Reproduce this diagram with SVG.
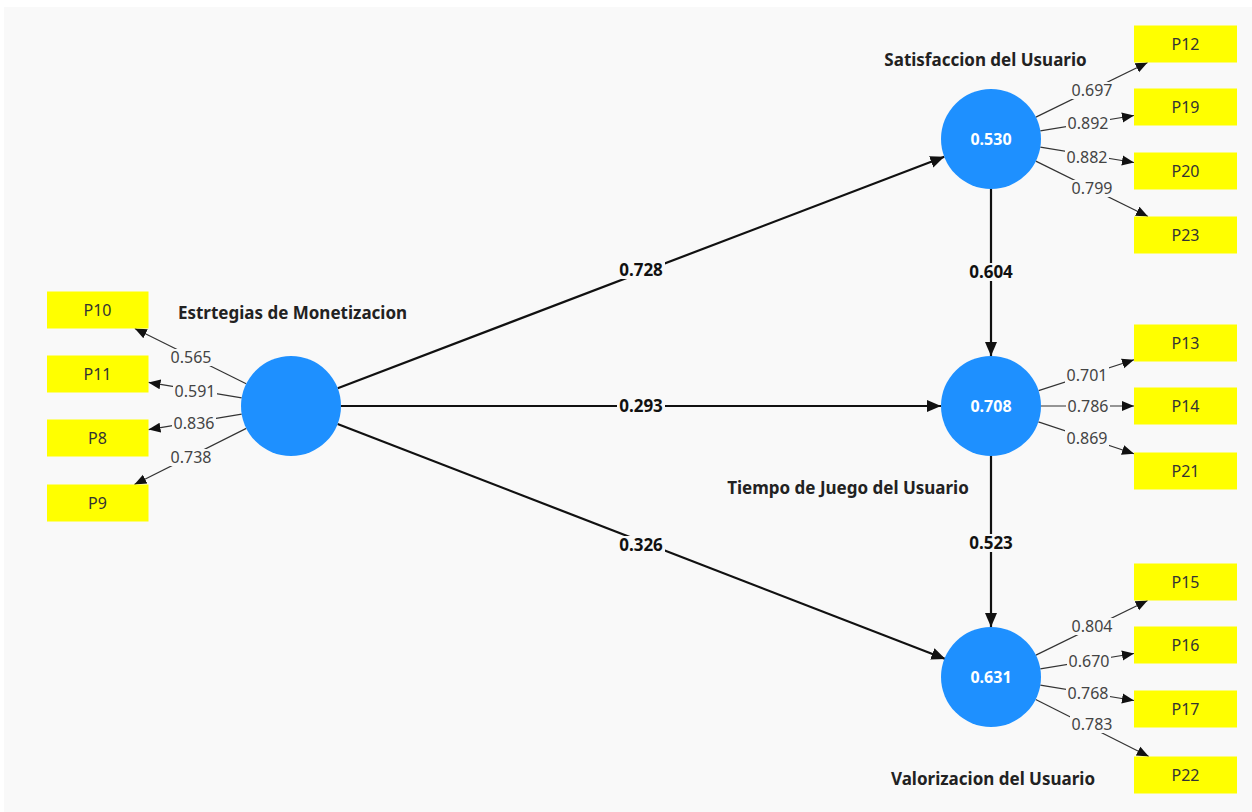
<svg xmlns="http://www.w3.org/2000/svg" width="1252" height="812" viewBox="0 0 1252 812">
<defs>
<marker id="ah" markerUnits="userSpaceOnUse" markerWidth="16" markerHeight="14" refX="14" refY="7" orient="auto"><path d="M0,1 L14,7 L0,13 Z" fill="#111"/></marker>
<marker id="ahs" markerUnits="userSpaceOnUse" markerWidth="14" markerHeight="12" refX="12" refY="6" orient="auto"><path d="M0,1 L12,6 L0,11 Z" fill="#111"/></marker>
</defs>
<style>
.bg{fill:#f9f9f9}
.lv circle{fill:#1e90ff}
.lv .v{font-family:"Noto Sans","Open Sans",sans-serif;font-size:16px;font-weight:bold;fill:#fff;text-anchor:middle}
.name{font-family:"Noto Sans","Open Sans",sans-serif;font-size:17px;font-weight:bold;fill:#222;text-anchor:middle}
.mv rect{fill:#ffff00}
.mv text{font-family:"Noto Sans","Open Sans",sans-serif;font-size:16px;fill:#333;text-anchor:middle}
.sp{stroke:#111;stroke-width:2.2;fill:none;marker-end:url(#ah)}
.ld{stroke:#333;stroke-width:1.2;fill:none;marker-end:url(#ahs)}
.kb{fill:#f9f9f9}
.sl{font-family:"Noto Sans","Open Sans",sans-serif;font-size:17px;font-weight:bold;fill:#111;text-anchor:middle}
.ll{font-family:"Noto Sans","Open Sans",sans-serif;font-size:16px;fill:#444;text-anchor:middle}
</style>
<rect width="1252" height="812" fill="#fff"/>
<rect class="bg" x="4" y="7" width="1248" height="805"/>

<g id="connectors">
<line class="sp" x1="337.7" y1="388.2" x2="944.3" y2="156.8"/>
<line class="sp" x1="341" y1="406" x2="941" y2="406"/>
<line class="sp" x1="337.6" y1="424" x2="945.4" y2="659"/>
<line class="sp" x1="991" y1="189" x2="991" y2="356"/>
<line class="sp" x1="991" y1="456" x2="991" y2="627"/>
<rect class="kb" x="617" y="261" width="48" height="18"/>
<rect class="kb" x="617" y="397" width="48" height="18"/>
<rect class="kb" x="617" y="536" width="48" height="18"/>
<rect class="kb" x="967" y="263" width="48" height="18"/>
<rect class="kb" x="967" y="534" width="48" height="18"/>
<text class="sl" x="641" y="276">0.728</text>
<text class="sl" x="641" y="412">0.293</text>
<text class="sl" x="641" y="551">0.326</text>
<text class="sl" x="991" y="278">0.604</text>
<text class="sl" x="991" y="549">0.523</text>

<line class="ld" x1="246.2" y1="383.8" x2="134.8" y2="328.5"/>
<line class="ld" x1="241.7" y1="397.8" x2="148.5" y2="382.4"/>
<line class="ld" x1="241.7" y1="414.2" x2="148.5" y2="429.6"/>
<line class="ld" x1="246.3" y1="428.4" x2="134.4" y2="484.5"/>
<rect class="kb" x="169" y="349" width="44" height="17"/>
<rect class="kb" x="173" y="383" width="44" height="17"/>
<rect class="kb" x="172" y="415" width="44" height="17"/>
<rect class="kb" x="169" y="449" width="44" height="17"/>
<text class="ll" x="191" y="363">0.565</text>
<text class="ll" x="195" y="397">0.591</text>
<text class="ll" x="194" y="429">0.836</text>
<text class="ll" x="191" y="463">0.738</text>

<line class="ld" x1="1035.9" y1="117.1" x2="1147.6" y2="62.5"/>
<line class="ld" x1="1040.3" y1="130.9" x2="1134" y2="115.5"/>
<line class="ld" x1="1040.3" y1="147.1" x2="1134" y2="162.5"/>
<line class="ld" x1="1035.8" y1="161.1" x2="1148" y2="216.5"/>
<rect class="kb" x="1070" y="82" width="44" height="17"/>
<rect class="kb" x="1066" y="115" width="44" height="17"/>
<rect class="kb" x="1065" y="149" width="44" height="17"/>
<rect class="kb" x="1070" y="180" width="44" height="17"/>
<text class="ll" x="1092" y="96">0.697</text>
<text class="ll" x="1088" y="129">0.892</text>
<text class="ll" x="1087" y="163">0.882</text>
<text class="ll" x="1092" y="194">0.799</text>

<line class="ld" x1="1038.6" y1="390.6" x2="1134" y2="359.7"/>
<line class="ld" x1="1041" y1="406" x2="1134" y2="406"/>
<line class="ld" x1="1038.4" y1="421.9" x2="1134" y2="453.8"/>
<rect class="kb" x="1065" y="367" width="44" height="17"/>
<rect class="kb" x="1066" y="398" width="44" height="17"/>
<rect class="kb" x="1065" y="430" width="44" height="17"/>
<text class="ll" x="1087" y="381">0.701</text>
<text class="ll" x="1088" y="412">0.786</text>
<text class="ll" x="1087" y="444">0.869</text>

<line class="ld" x1="1035.9" y1="655.1" x2="1147.6" y2="600.5"/>
<line class="ld" x1="1040.3" y1="668.9" x2="1134" y2="653.5"/>
<line class="ld" x1="1040.3" y1="685.1" x2="1134" y2="700.5"/>
<line class="ld" x1="1035.7" y1="699.5" x2="1148.8" y2="756.5"/>
<rect class="kb" x="1070" y="618" width="44" height="17"/>
<rect class="kb" x="1067" y="653" width="44" height="17"/>
<rect class="kb" x="1066" y="685" width="44" height="17"/>
<rect class="kb" x="1070" y="716" width="44" height="17"/>
<text class="ll" x="1092" y="632">0.804</text>
<text class="ll" x="1089" y="667">0.670</text>
<text class="ll" x="1088" y="699">0.768</text>
<text class="ll" x="1092" y="730">0.783</text>
</g>

<g id="estrategias" class="lv">
<circle cx="291" cy="406" r="50"/>
<text class="name" x="292.5" y="319">Estrtegias de Monetizacion</text>
</g>
<g id="satisfaccion" class="lv">
<circle cx="991" cy="139" r="50"/>
<text class="v" x="991" y="145">0.530</text>
<text class="name" x="985.5" y="66">Satisfaccion del Usuario</text>
</g>
<g id="tiempo" class="lv">
<circle cx="991" cy="406" r="50"/>
<text class="v" x="991" y="412">0.708</text>
<text class="name" x="848" y="494">Tiempo de Juego del Usuario</text>
</g>
<g id="valorizacion" class="lv">
<circle cx="991" cy="677" r="50"/>
<text class="v" x="991" y="683">0.631</text>
<text class="name" x="993" y="785">Valorizacion del Usuario</text>
</g>

<g id="P10" class="mv"><rect x="47" y="291.5" width="101.5" height="37"/><text x="97.5" y="316">P10</text></g>
<g id="P11" class="mv"><rect x="47" y="355.5" width="101.5" height="37"/><text x="97.5" y="380">P11</text></g>
<g id="P8" class="mv"><rect x="47" y="419.5" width="101.5" height="37"/><text x="97.5" y="444">P8</text></g>
<g id="P9" class="mv"><rect x="47" y="484.5" width="101.5" height="37"/><text x="97.5" y="509">P9</text></g>

<g id="P12" class="mv"><rect x="1134" y="25.5" width="103" height="37"/><text x="1185.5" y="50">P12</text></g>
<g id="P19" class="mv"><rect x="1134" y="88.5" width="103" height="37"/><text x="1185.5" y="113">P19</text></g>
<g id="P20" class="mv"><rect x="1134" y="152.5" width="103" height="37"/><text x="1185.5" y="177">P20</text></g>
<g id="P23" class="mv"><rect x="1134" y="216.5" width="103" height="37"/><text x="1185.5" y="241">P23</text></g>

<g id="P13" class="mv"><rect x="1134" y="324.5" width="103" height="37"/><text x="1185.5" y="349">P13</text></g>
<g id="P14" class="mv"><rect x="1134" y="387.5" width="103" height="37"/><text x="1185.5" y="412">P14</text></g>
<g id="P21" class="mv"><rect x="1134" y="452.5" width="103" height="37"/><text x="1185.5" y="477">P21</text></g>

<g id="P15" class="mv"><rect x="1134" y="563.5" width="103" height="37"/><text x="1185.5" y="588">P15</text></g>
<g id="P16" class="mv"><rect x="1134" y="626.5" width="103" height="37"/><text x="1185.5" y="651">P16</text></g>
<g id="P17" class="mv"><rect x="1134" y="690.5" width="103" height="37"/><text x="1185.5" y="715">P17</text></g>
<g id="P22" class="mv"><rect x="1134" y="756.5" width="103" height="37"/><text x="1185.5" y="781">P22</text></g>
</svg>
